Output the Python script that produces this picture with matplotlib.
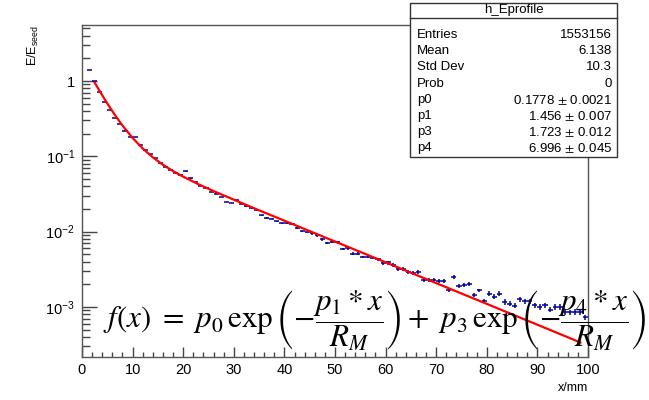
import numpy as np
import matplotlib
matplotlib.use("Agg")
import matplotlib.pyplot as plt
from matplotlib.patches import Rectangle
from matplotlib.ticker import FixedLocator, NullFormatter

plt.rcParams['font.family'] = ['Liberation Sans', 'DejaVu Sans']
plt.rcParams['mathtext.fontset'] = 'stix'

# histogram h_Eprofile, 1 mm bins from 0 to 100 (bin 0 empty)
bin_edges_lo = 0.0
bin_width = 1.0
e_ratio = [np.nan, 1.4, 1.0, 0.72, 0.53, 0.41, 0.32, 0.27, 0.22, 0.18,
           0.18, 0.14, 0.12, 0.106, 0.094, 0.081, 0.073, 0.066, 0.061, 0.057,
           0.063, 0.051, 0.046, 0.041, 0.038, 0.034, 0.032, 0.029, 0.025, 0.024,
           0.026, 0.0236, 0.022, 0.0204, 0.0194, 0.0165, 0.0152, 0.0149, 0.0137, 0.0129,
           0.0129, 0.0125, 0.0112, 0.0101, 0.0098, 0.0095, 0.0089, 0.0079, 0.0071, 0.0074,
           0.0072, 0.0059, 0.0060, 0.0051, 0.0051, 0.0046, 0.0046, 0.0045, 0.0043, 0.0038,
           0.0039, 0.0036, 0.0032, 0.0032, 0.0029, 0.0028, 0.0029, 0.0023, 0.0023, 0.0023,
           0.0022, 0.0022, 0.00166, 0.0025, 0.00188, 0.00195, 0.00205, 0.00144, 0.00166, 0.00122,
           0.0015, 0.00137, 0.0015, 0.00117, 0.00111, 0.00104, 0.00126, 0.0012, 0.0012, 0.00106,
           0.001, 0.00106, 0.00092, 0.001, 0.001, 0.00086, 0.00085, 0.00086, 0.00085, 0.00073]
rel_err = [0.004] * 30 + [0.02] * 15 + [0.04] * 15 + [0.06] * 20 + [0.08] * 20

# fitted curve
fit_x = [2.5, 3.5, 5, 6.5, 8, 10, 12, 14, 16, 18, 20, 23, 26, 30, 35, 40, 45,
         50, 55, 60, 65, 70, 75, 80, 85, 90, 95, 98.5]
fit_y = [0.955, 0.734, 0.503, 0.354, 0.2565, 0.1753, 0.127, 0.0969, 0.0773, 0.0637,
         0.0537, 0.0427, 0.0346, 0.0266, 0.0192, 0.0140, 0.01017, 0.0074, 0.00539,
         0.00392, 0.00285, 0.002075, 0.00151, 0.0011, 0.0008, 0.000582, 0.000423, 0.000338]

stat_names = ['Entries', 'Mean', 'Std Dev', 'Prob', 'p0', 'p1', 'p3', 'p4']
stat_values = ['1553156', '6.138', '10.3', '0',
               '0.1778 $\\pm$ 0.0021', '1.456 $\\pm$ 0.007',
               '1.723 $\\pm$ 0.012', '6.996 $\\pm$ 0.045']

y_ticks = [1e-3, 1e-2, 1e-1, 1]
y_ticklabels = ['$\\mathregular{10^{-3}}$', '$\\mathregular{10^{-2}}$',
                '$\\mathregular{10^{-1}}$', '1']

W, H = 649, 400
def fx(px):
    return px / W
def fy(py):
    return 1 - py / H

fig = plt.figure(figsize=(6.49, 4.0), dpi=100)
ax = fig.add_axes([fx(82), fy(357), fx(588) - fx(82), fy(25) - fy(357)])

vals = np.array(e_ratio)
centers = bin_edges_lo + bin_width * (np.arange(len(vals)) + 0.5)
ax.errorbar(centers, vals, xerr=bin_width / 2, yerr=vals * np.array(rel_err),
            fmt='none', ecolor='#000099', elinewidth=1.1, capsize=0, zorder=2)
ax.plot(fit_x, fit_y, color='#ff0000', lw=1.6, zorder=3)

ax.set_yscale('log')
ax.set_xlim(0, 100)
ax.set_ylim(2.17e-4, 5.54)

ax.yaxis.set_major_locator(FixedLocator(y_ticks))
ax.set_yticklabels(y_ticklabels)
minors = [m * 10.0 ** e for e in range(-4, 1) for m in range(2, 10)]
ax.yaxis.set_minor_locator(FixedLocator(minors))
ax.yaxis.set_minor_formatter(NullFormatter())
ax.set_xticks(np.arange(0, 101, 10))
ax.set_xticks(np.arange(0, 101, 2), minor=True)

ax.tick_params(axis='both', which='both', direction='in', colors='#444444',
               labelcolor='black', labelsize=10.5, width=1.0)
ax.tick_params(axis='y', which='major', length=10.8, pad=5)
ax.tick_params(axis='y', which='minor', length=5.4)
ax.tick_params(axis='x', which='major', length=7.2, pad=4)
ax.tick_params(axis='x', which='minor', length=3.6)
for s in ax.spines.values():
    s.set_color('#555555')
    s.set_linewidth(1.0)

fig.text(fx(588), fy(388), 'x/mm', ha='right', va='center', fontsize=9)
fig.text(fx(33), fy(25), '$\\mathregular{E/E_{seed}}$', ha='center', va='top',
         rotation=90, fontsize=9)

# stats box
bx0, bx1, by0, by1 = 410, 617, 3, 157
fig.add_artist(Rectangle((fx(bx0), fy(by1)), fx(bx1) - fx(bx0), fy(by0) - fy(by1),
                         transform=fig.transFigure, fc='white', ec='#333333',
                         lw=1.0, zorder=5))
fig.add_artist(plt.Line2D([fx(bx0), fx(bx1)], [fy(18), fy(18)],
                          transform=fig.transFigure, color='#333333', lw=1.0, zorder=6))
fig.text(fx((bx0 + bx1) / 2), fy(10.5), 'h_Eprofile', ha='center', va='center',
         fontsize=9.5, zorder=7)
for i, (n, v) in enumerate(zip(stat_names, stat_values)):
    yy = 35 + 16.2 * i
    fig.text(fx(bx0 + 7), fy(yy), n, ha='left', va='center', fontsize=9.5, zorder=7)
    fig.text(fx(bx1 - 5), fy(yy), v, ha='right', va='center', fontsize=9.5, zorder=7)

formula = ('$f(x)\\ =\\ p_0\\,\\exp\\left(-\\dfrac{p_1 * x}{R_M}\\right) +\\ '
           'p_3\\,\\exp\\left(-\\dfrac{p_4 * x}{R_M}\\right)$')
fig.text(fx(103), fy(321), formula, ha='left', va='center', fontsize=22.3,
         color='black', zorder=10)

fig.savefig('out.png', dpi=100)
